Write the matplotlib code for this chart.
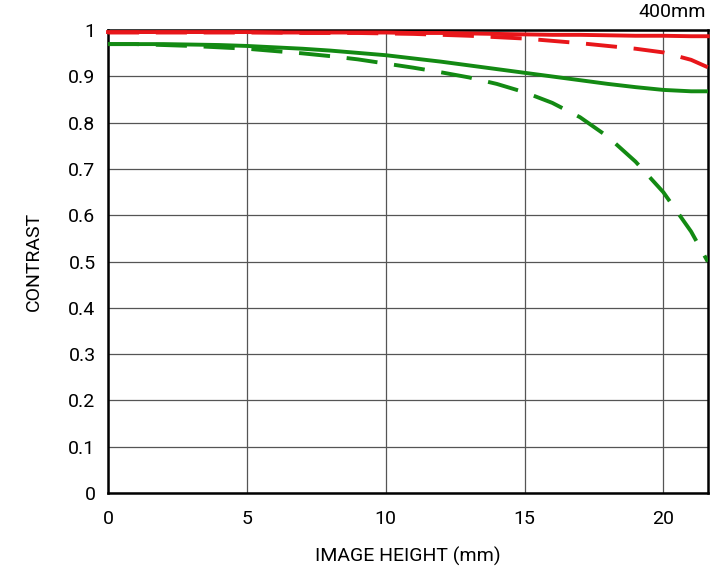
import matplotlib.pyplot as plt
import numpy as np

# image height (mm)
x = [0, 1, 2, 3, 4, 5, 6, 7, 8, 9, 10, 11, 12, 13, 14, 15, 16, 17, 18, 19, 20, 21, 21.6]

red_solid = [0.996, 0.996, 0.996, 0.996, 0.996, 0.996, 0.995, 0.995, 0.995, 0.995, 0.995,
             0.994, 0.994, 0.993, 0.992, 0.991, 0.990, 0.990, 0.989, 0.988, 0.988, 0.987, 0.987]
red_dash = [0.995, 0.995, 0.995, 0.995, 0.995, 0.995, 0.995, 0.994, 0.994, 0.994, 0.993,
            0.992, 0.990, 0.988, 0.985, 0.982, 0.977, 0.972, 0.966, 0.960, 0.952, 0.936, 0.920]
green_solid = [0.970, 0.970, 0.970, 0.969, 0.968, 0.966, 0.963, 0.960, 0.956, 0.951, 0.946,
               0.939, 0.932, 0.924, 0.916, 0.908, 0.900, 0.892, 0.884, 0.877, 0.871, 0.868, 0.868]
green_dash = [0.970, 0.970, 0.968, 0.966, 0.963, 0.960, 0.955, 0.950, 0.944, 0.937, 0.928,
              0.919, 0.909, 0.898, 0.884, 0.866, 0.843, 0.812, 0.770, 0.716, 0.650, 0.565, 0.500]

x_ticks = [0, 5, 10, 15, 20]
y_ticks = [0, 0.1, 0.2, 0.3, 0.4, 0.5, 0.6, 0.7, 0.8, 0.9, 1]
y_labels = ['0', '0.1', '0.2', '0.3', '0.4', '0.5', '0.6', '0.7', '0.8', '0.9', '1']

plt.rcParams['font.family'] = ['Roboto', 'DejaVu Sans']

fig = plt.figure(figsize=(7.2, 5.7), dpi=100)
ax = fig.add_axes([0.15, 0.135, 0.833, 0.812])

lw = 2.8
ax.plot(x, green_dash, color='#138a13', lw=lw, dashes=(8, 4.3), zorder=3)
ax.plot(x, green_solid, color='#138a13', lw=lw, zorder=4)
ax.plot(x, red_dash, color='#e8161a', lw=lw, dashes=(8, 4.3), zorder=5, clip_on=False)
ax.plot(x, red_solid, color='#e8161a', lw=lw, zorder=6, clip_on=False)

ax.set_xlim(0, 21.6)
ax.set_ylim(0, 1)
ax.set_xticks(x_ticks)
ax.set_yticks(y_ticks)
ax.set_yticklabels(y_labels)
ax.tick_params(axis='y', length=0, labelsize=14, pad=9)
ax.tick_params(axis='x', length=0, labelsize=14, pad=12)
ax.grid(True, color='#555555', lw=0.9)
for s in ax.spines.values():
    s.set_linewidth(1.8)
    s.set_color('black')

ax.set_xlabel('IMAGE HEIGHT (mm)', fontsize=14, labelpad=14)
ax.set_ylabel('CONTRAST', fontsize=14, labelpad=18)
fig.text(0.98, 0.995, '400mm', ha='right', va='top', fontsize=14)

plt.savefig('out.png', dpi=100)
